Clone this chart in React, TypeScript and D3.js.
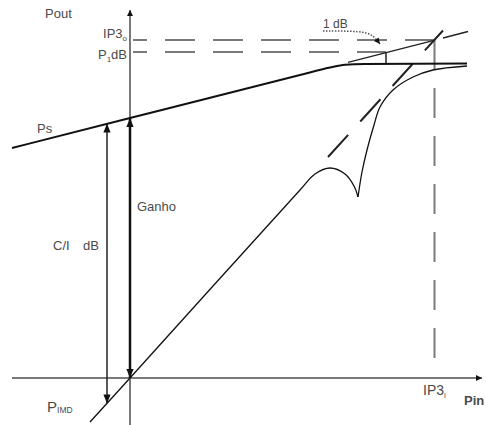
import * as d3 from 'd3';

const W = 486;
const H = 425;

// diagram units: Pin (dB) across, Pout (dB) up
const fundamental: [number, number][] = [
  [-11.8, 23.0], [0, 26.0], [17, 30.3], [20, 31.05], [21.5, 31.32], [23.5, 31.4], [33.7, 31.45],
];
const linearExt: [number, number][] = [[21.8, 31.56], [30.4, 33.77]];
const linearTail: [number, number][] = [[31.3, 34.0], [33.8, 34.64]];
const imdLow: [number, number][] = [
  [-4.0, -4.4], [0, 0], [17, 18.8], [18.5, 20.4], [20, 21.0], [21.5, 20.4], [22.4, 19.2], [22.8, 18.1],
];
const imdHigh: [number, number][] = [
  [22.8, 18.1], [23.2, 20.6], [23.7, 22.8], [24.4, 25.3], [25, 27.1], [26.3, 28.8], [28.3, 30.1], [30.3, 30.8], [33.7, 31.2],
];
const imdExt: [number, number][] = [[19.8, 22.1], [31.3, 34.75]];
const ip3 = { pin: 30.45, pout: 33.8 };
const p1dB = { pin: 25.6, pout: 32.6, sat: 31.4 };
const gain = { pin: 0, top: 26.0, bottom: 0 };
const ci = { pin: -2.3, top: 25.45, bottom: -2.55 };
const oneDbNote: [number, number][] = [[19.3, 34.7], [23.2, 34.7], [24.3, 34.3], [25.0, 33.4]];

const x = d3.scaleLinear().domain([-13, 35.6]).range([0, W]);
const y = d3.scaleLinear().domain([37.8, -4.7]).range([0, H]);

const line = d3.line<[number, number]>().x(d => x(d[0])).y(d => y(d[1]));
const smooth = d3.line<[number, number]>().x(d => x(d[0])).y(d => y(d[1])).curve(d3.curveMonotoneX);
const catmull = d3.line<[number, number]>().x(d => x(d[0])).y(d => y(d[1])).curve(d3.curveCatmullRom.alpha(0.5));
const curvy = d3.line<[number, number]>().x(d => x(d[0])).y(d => y(d[1])).curve(d3.curveBasis);

const font = '"Liberation Sans", Arial, sans-serif';
const txt = '#4a4a4a';
const grey = '#7a7a7a';

export default function App() {
  const x0 = x(0);
  const y0 = y(0);
  return (
    <svg width={W} height={H} style={{ position: 'absolute', left: 0, top: 0 }} fontFamily={font}>
      <defs>
        <marker id="ah" viewBox="0 0 10 10" refX="10" refY="5" markerWidth="10" markerHeight="9"
          markerUnits="userSpaceOnUse" orient="auto-start-reverse">
          <path d="M0,1 L10,5 L0,9 z" fill="#111" />
        </marker>
        <marker id="ahs" viewBox="0 0 10 10" refX="10" refY="5" markerWidth="8" markerHeight="6"
          markerUnits="userSpaceOnUse" orient="auto-start-reverse">
          <path d="M0,0 L10,5 L0,10 z" fill="#111" />
        </marker>
      </defs>

      {/* axes */}
      <line x1={x(-11.8)} y1={y0} x2={x(35.2)} y2={y0} stroke={grey} strokeWidth={2} markerEnd="url(#ahs)" />
      <line x1={x0} y1={y(-4.7)} x2={x0} y2={y(36.8)} stroke={grey} strokeWidth={2} markerEnd="url(#ahs)" />

      {/* dashed guides */}
      <g stroke={grey} strokeWidth={2} strokeDasharray="30 18" fill="none">
        <line x1={x(0.3)} y1={y(ip3.pout)} x2={x(ip3.pin)} y2={y(ip3.pout)} strokeDashoffset={16} />
        <line x1={x(0.3)} y1={y(p1dB.pout)} x2={x(p1dB.pin)} y2={y(p1dB.pout)} strokeDashoffset={16} />
        <line x1={x(ip3.pin)} y1={y(ip3.pout)} x2={x(ip3.pin)} y2={y(2.0)} />
      </g>
      <path d={line(imdExt) ?? ''} stroke="#222" strokeWidth={2} strokeDasharray="30 18" fill="none" />

      {/* 1 dB box */}
      <line x1={x(p1dB.pin)} y1={y(p1dB.pout)} x2={x(p1dB.pin)} y2={y(p1dB.sat)} stroke="#222" strokeWidth={1.5} />

      {/* fundamental */}
      <path d={smooth(fundamental) ?? ''} stroke="#111" strokeWidth={2} fill="none" />
      <path d={line(linearExt) ?? ''} stroke="#222" strokeWidth={1.2} fill="none" />
      <path d={line(linearTail) ?? ''} stroke="#222" strokeWidth={1.5} fill="none" />

      {/* third-order products */}
      <path d={catmull(imdLow) ?? ''} stroke="#111" strokeWidth={1.3} fill="none" />
      <path d={catmull(imdHigh) ?? ''} stroke="#111" strokeWidth={1.3} fill="none" />

      {/* gain and C/I arrows */}
      <line x1={x(gain.pin)} y1={y(gain.top)} x2={x(gain.pin)} y2={y(gain.bottom)} stroke="#111" strokeWidth={2.5}
        markerStart="url(#ah)" markerEnd="url(#ah)" />
      <line x1={x(ci.pin)} y1={y(ci.top)} x2={x(ci.pin)} y2={y(ci.bottom)} stroke="#222" strokeWidth={1.5}
        markerStart="url(#ah)" markerEnd="url(#ah)" />

      {/* 1 dB note */}
      <path d={curvy(oneDbNote) ?? ''} stroke="#555" strokeWidth={1.5} strokeDasharray="1.5 1.5" fill="none"
        markerEnd="url(#ahs)" />

      {/* labels */}
      <g fill={txt} fontSize={13}>
        <text x={45} y={18}>Pout</text>
        <text x={127} y={y(ip3.pout) - 2} textAnchor="end">IP3<tspan fontSize={8} dy={3}>o</tspan></text>
        <text x={127} y={y(p1dB.pout) + 7} textAnchor="end">P<tspan fontSize={8} dy={3}>1</tspan><tspan dy={-3}>dB</tspan></text>
        <text x={37} y={133}>Ps</text>
        <text x={137} y={211}>Ganho</text>
        <text x={53} y={250}>C/I</text>
        <text x={83} y={250}>dB</text>
        <text x={323} y={28} fontSize={12}>1 dB</text>
        <text x={47} y={412} fontSize={15}>P<tspan fontSize={8.5} dy={1}>IMD</tspan></text>
        <text x={423} y={395} fontSize={14}>IP3<tspan fontSize={8} dy={3}>i</tspan></text>
        <text x={464} y={405} fontSize={13} fontWeight="bold">Pin</text>
      </g>
    </svg>
  );
}
